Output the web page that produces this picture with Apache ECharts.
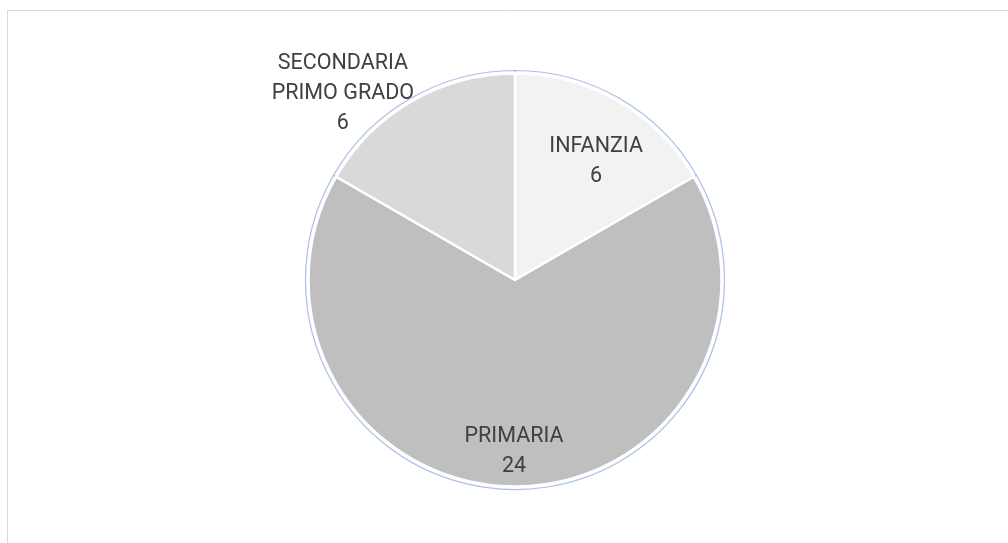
<!DOCTYPE html>
<html>
<head>
<meta charset="utf-8">
<script src="https://cdn.jsdelivr.net/npm/echarts@6/dist/echarts.min.js"></script>
<style>
  html, body { margin: 0; padding: 0; background: #fff; }
  #main { width: 1008px; height: 543px; }
</style>
</head>
<body>
<div id="main"></div>
<script>
// dati
const categories = ['INFANZIA', 'PRIMARIA', 'SECONDARIA\nPRIMO GRADO'];
const values = [6, 24, 6];
const sliceColors = ['#f2f2f2', '#bfbfbf', '#d9d9d9'];
// spostamento etichette (best fit come in Excel)
const labelShift = [[28, -26], [-1, 65], [-119, -94]];

const pieData = categories.map((name, i) => ({
  name: name,
  value: values[i],
  itemStyle: { color: sliceColors[i] }
}));

const chart = echarts.init(document.getElementById('main'));
chart.setOption({
  animation: false,
  backgroundColor: '#fff',
  graphic: [{
    type: 'rect',
    shape: { x: 7.5, y: 10.5, width: 1100, height: 600 },
    style: { fill: 'none', stroke: '#d9d9d9', lineWidth: 1 },
    silent: true
  }],
  series: [
    {
      // contorno azzurro
      type: 'pie',
      center: [515, 280],
      radius: [0, 209.5],
      startAngle: 90,
      clockwise: true,
      silent: true,
      z: 1,
      label: { show: false },
      labelLine: { show: false },
      itemStyle: { color: '#fff', borderColor: '#a9bfe6', borderWidth: 1.2 },
      data: categories.map((name, i) => ({ name: name, value: values[i] }))
    },
    {
      type: 'pie',
      center: [515, 280],
      radius: [0, 206.5],
      startAngle: 90,
      clockwise: true,
      silent: true,
      z: 2,
      itemStyle: { borderColor: '#fff', borderWidth: 2.5 },
      label: {
        show: true,
        position: 'inside',
        formatter: '{b}\n{c}',
        fontFamily: 'Roboto',
        fontSize: 21.5,
        lineHeight: 30,
        color: '#404040',
        align: 'center'
      },
      labelLine: { show: false },
      labelLayout: function (params) {
        const s = labelShift[params.dataIndex];
        return { dx: s[0], dy: s[1] };
      },
      data: pieData
    }
  ]
});
</script>
</body>
</html>
